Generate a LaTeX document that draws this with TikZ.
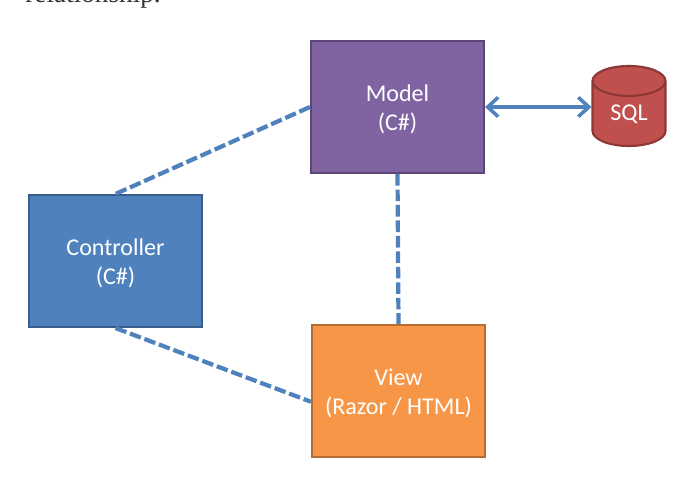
\documentclass[tikz,border=0pt]{standalone}
\usepackage{fontspec}
\setmainfont{Carlito}
\newfontfamily\pageserif{Liberation Serif}
\usepackage{xcolor}
\usepackage{tikz}
\usetikzlibrary{positioning,arrows.meta,shapes.geometric}
\definecolor{modelfill}{HTML}{8064A2}
\definecolor{modeledge}{HTML}{5C4776}
\definecolor{ctrlfill}{HTML}{4F81BD}
\definecolor{ctrledge}{HTML}{385D8A}
\definecolor{viewfill}{HTML}{F79646}
\definecolor{viewedge}{HTML}{B66D31}
\definecolor{sqlfill}{HTML}{C0504D}
\definecolor{sqledge}{HTML}{8C3836}
\tikzset{
  mvcbox/.style  = {shape=rectangle, draw, line width=1.2pt, align=center,
                    text=white, font=\fontsize{13.7}{16.5}\selectfont, text height=28.3pt,
                    minimum width=3.46cm, minimum height=2.64cm, inner sep=0pt},
  model/.style   = {mvcbox, fill=modelfill, draw=modeledge},
  control/.style = {mvcbox, fill=ctrlfill, draw=ctrledge},
  viewbox/.style = {mvcbox, fill=viewfill, draw=viewedge},
  store/.style   = {shape=cylinder, shape border rotate=90, aspect=0.8, draw=sqledge,
                    line width=1.2pt, cylinder uses custom fill,
                    cylinder body fill=sqlfill, cylinder end fill=sqlfill,
                    text=white, font=\fontsize{13.7}{16.5}\selectfont,
                    minimum width=1.46cm, minimum height=1.6cm, inner sep=0pt},
  link/.style    = {draw=ctrlfill, line width=2.4pt, dash pattern=on 6.6pt off 2.2pt},
  dblink/.style  = {draw=ctrlfill, line width=2pt,
                    {Straight Barb[length=6pt,width=11pt]}-{Straight Barb[length=6pt,width=11pt]}}
}
\begin{document}
\begin{tikzpicture}[x=1cm,y=1cm]
  \useasboundingbox (0,0) rectangle (13.7,9.66);
  \node [anchor=base west, inner sep=0pt, font=\pageserif\fontsize{15.5}{18}\selectfont, text=black!80]
    (para) at (0.5,9.6) {relationship.};
  \node [model]   (model) at (7.95,7.52) {Model\\(C\#)};
  \node [control] (ctrl)  at (2.31,4.44) {Controller\\(C\#)};
  \node [viewbox] (view)  at (7.97,1.84) {View\\(Razor / HTML)};
  \node [store]   (sql)   at (12.58,7.38) {SQL};
  \draw [link] (model.west) -- (ctrl.north);
  \draw [link] (model.south) -- (view.north);
  \draw [link] (ctrl.south) -- (view.187);
  \draw [dblink] (model.east) -- (model.east -| sql.west);
\end{tikzpicture}
\end{document}
